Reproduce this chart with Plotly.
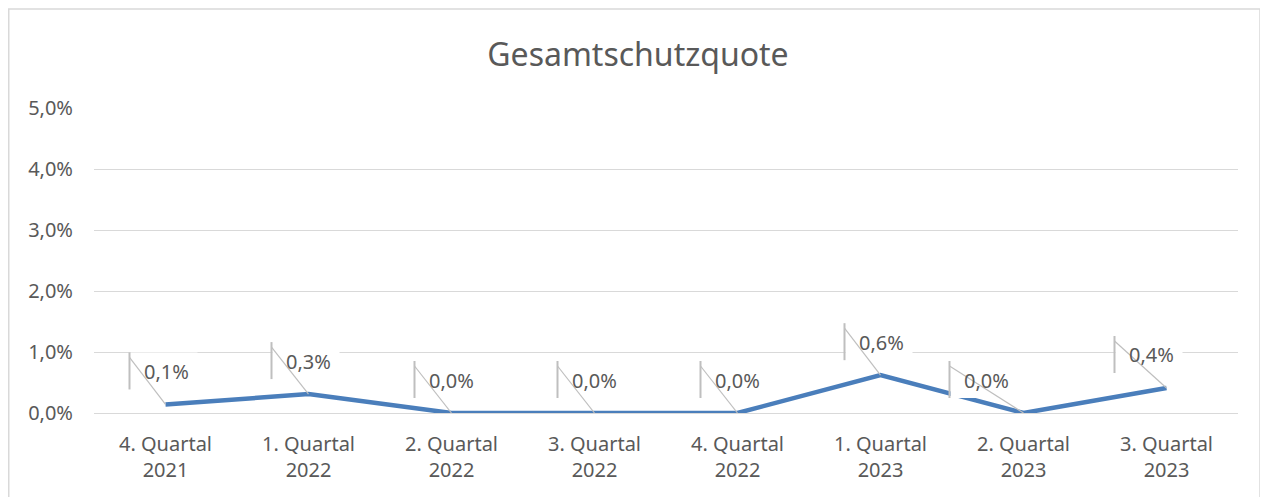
import plotly.graph_objects as go

categories = ["4. Quartal<br>2021", "1. Quartal<br>2022", "2. Quartal<br>2022", "3. Quartal<br>2022",
              "4. Quartal<br>2022", "1. Quartal<br>2023", "2. Quartal<br>2023", "3. Quartal<br>2023"]
values = [0.0014, 0.0031, 0.0, 0.0, 0.0, 0.0062, 0.0, 0.0041]
y_ticks = [0, 0.01, 0.02, 0.03, 0.04, 0.05]
y_ticklabels = ["0,0%", "1,0%", "2,0%", "3,0%", "4,0%", "5,0%"]
title = "Gesamtschutzquote"

# label callout offsets (pixels, left edge of label box relative to point)
label_dx = [-36, -37, -37, -37, -37, -36, -74, -52]

FONT = "Noto Sans"
GREY_TXT = "#595959"
LEADER = "#bfbfbf"

idx = list(range(len(categories)))

fig = go.Figure()
fig.add_trace(go.Scatter(
    x=idx, y=values, mode="lines",
    line=dict(color="#4a7ebb", width=4.5),
    hoverinfo="skip", showlegend=False,
))

shapes = []
annotations = []
for i, (v, dx) in enumerate(zip(values, label_dx)):
    common = dict(xref="x", yref="y", xsizemode="pixel", ysizemode="pixel",
                  xanchor=i, yanchor=v, layer="above")
    shapes.append(dict(type="rect", x0=dx + 1, x1=dx + 68, y0=15, y1=52,
                       fillcolor="white", line=dict(width=0), **common))
    shapes.append(dict(type="line", x0=0, y0=0, x1=dx, y1=47,
                       line=dict(color=LEADER, width=1.2), **common))
    shapes.append(dict(type="line", x0=dx, y0=15, x1=dx, y1=52,
                       line=dict(color=LEADER, width=2), **common))
    txt = f"{v*100:.1f}".replace(".", ",") + "%"
    annotations.append(dict(
        x=i, y=v, xref="x", yref="y", text=txt, showarrow=False,
        xanchor="left", yanchor="middle", xshift=dx + 12, yshift=33,
        font=dict(family=FONT, size=20, color=GREY_TXT),
    ))

# figure sits 8px inside the page (body margin)
W, H = 1260, 489
L, R, T, B = 86, 30, 100, 84
pw, ph = W - L - R, H - T - B
shapes.append(dict(type="rect", xref="paper", yref="paper",
                   x0=(0.75 - L) / pw, x1=(1252 - L) / pw,
                   y0=(H - B - 520) / ph, y1=(H - B - 1) / ph,
                   line=dict(color="#d9d9d9", width=1.5), fillcolor="rgba(0,0,0,0)", layer="below"))

fig.update_layout(
    width=W, height=H,
    margin=dict(l=L, r=R, t=T, b=B),
    paper_bgcolor="white", plot_bgcolor="white",
    title=dict(text=title, x=0.5, xref="container", xanchor="center", y=1 - 47 / H, yanchor="middle",
               font=dict(family=FONT, size=32, color=GREY_TXT)),
    xaxis=dict(tickmode="array", tickvals=idx, ticktext=categories, range=[-0.5, len(idx) - 0.5],
               showgrid=False, zeroline=False, showline=True, linecolor="#d9d9d9", linewidth=1,
               ticks="", tickfont=dict(family=FONT, size=20, color=GREY_TXT), ticklabelstandoff=13),
    yaxis=dict(range=[0, 0.05], tickmode="array", tickvals=y_ticks, ticktext=y_ticklabels,
               showgrid=True, gridcolor="#d9d9d9", gridwidth=1, zeroline=False, showline=False,
               ticks="", tickfont=dict(family=FONT, size=20, color=GREY_TXT), ticklabelstandoff=20),
    shapes=shapes, annotations=annotations,
    font=dict(family=FONT, color=GREY_TXT),
)

fig.write_html("out.html")
